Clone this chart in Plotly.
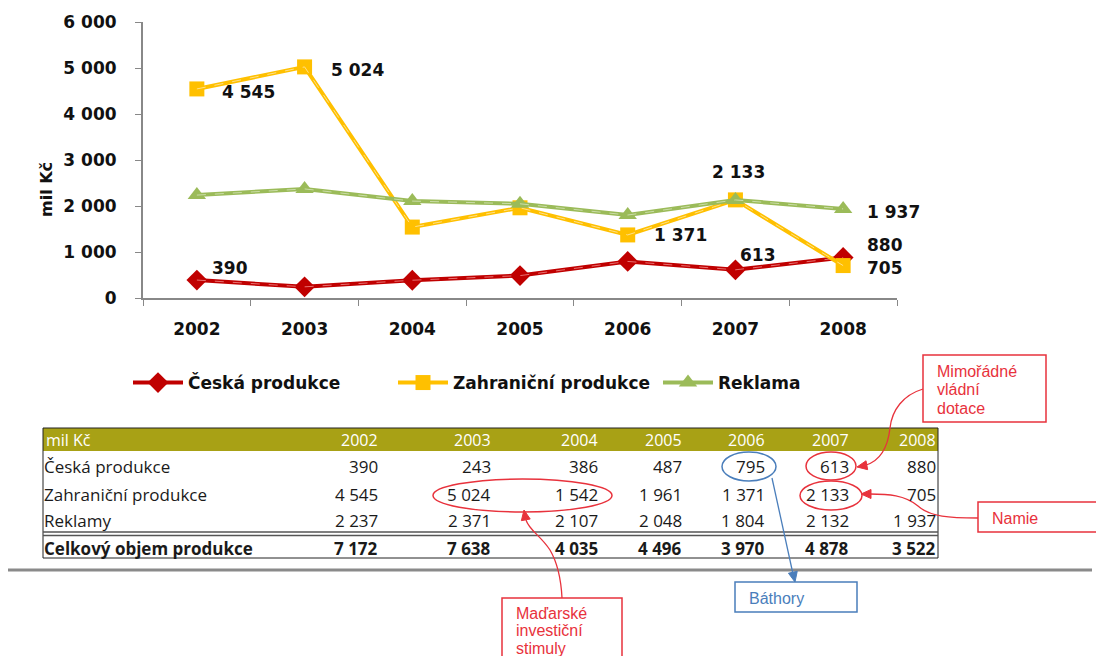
import math
import plotly.graph_objects as go

# page body has an 8px margin, so the figure is drawn 8px in from the window edge
OFF = 8
W, H = 1104 - 2 * OFF, 664 - 2 * OFF

years = ['2002', '2003', '2004', '2005', '2006', '2007', '2008']
ceska = [390, 243, 386, 487, 795, 613, 880]
zahranicni = [4545, 5024, 1542, 1961, 1371, 2133, 705]
reklama = [2237, 2371, 2107, 2048, 1804, 2132, 1937]
celkem = [7172, 7638, 4035, 4496, 3970, 4878, 3522]

row_labels = ['Česká produkce', 'Zahraniční produkce', 'Reklamy', 'Celkový objem produkce']


def fmt(v):
    return f'{v:,}'.replace(',', ' ')


def X(px):
    return (px - OFF) / W


def Y(py):
    return 1 - (py - OFF) / H


chart_font = dict(family='DejaVu Sans', size=17, color='#111', weight='bold')

series = [
    ('Česká produkce', ceska, '#C00000', '#E87070', 'diamond', 16),
    ('Zahraniční produkce', zahranicni, '#FFC000', '#FFE08A', 'square', 15),
    ('Reklama', reklama, '#9BBB59', '#CBDDA8', 'triangle-up', 16),
]

fig = go.Figure()
for name, vals, col, light, sym, size in series:
    fig.add_trace(go.Scatter(x=years, y=vals, name=name, mode='lines+markers',
                             line=dict(color=col, width=4),
                             marker=dict(symbol=sym, size=size, color=col)))
    # lighter dashed highlight inside the line (Excel style)
    fig.add_trace(go.Scatter(x=years, y=vals, mode='lines', showlegend=False, hoverinfo='skip',
                             line=dict(color=light, width=1, dash='dash')))

annotations = []

# data labels: (series, index, anchor, xshift, yshift)
label_spec = [
    (ceska, 0, 'left', 13, 12), (ceska, 5, 'left', 3, 15), (ceska, 6, 'left', 22, 13),
    (zahranicni, 0, 'left', 23, -3), (zahranicni, 1, 'left', 24, -3), (zahranicni, 4, 'left', 24, 0),
    (zahranicni, 5, 'center', 3, 28), (zahranicni, 6, 'left', 22, -2),
    (reklama, 6, 'left', 22, -3),
]
for s, i, xa, dx, dy in label_spec:
    annotations.append(dict(x=i, y=s[i], xref='x', yref='y', text=fmt(s[i]), showarrow=False,
                            xanchor=xa, yanchor='middle', xshift=dx, yshift=dy, font=chart_font))

# table below the chart
col_right = [380, 493, 600, 684, 767, 851, 938]
row_y = [466, 494, 520, 548]
tfont = dict(family='Open Sans', size=17, color='#1a1a1a')
hfont = dict(family='Open Sans', size=16, color='white')
annotations.append(dict(x=X(44), y=Y(440), xref='paper', yref='paper', text='mil Kč', showarrow=False,
                        xanchor='left', yanchor='middle', font=hfont))
for j, yr in enumerate(years):
    annotations.append(dict(x=X(col_right[j]), y=Y(440), xref='paper', yref='paper', text=yr, showarrow=False,
                            xanchor='right', yanchor='middle', font=hfont))
rows = [ceska, zahranicni, reklama, celkem]
for r, (lab, vals) in enumerate(zip(row_labels, rows)):
    f = dict(tfont, weight='bold') if r == 3 else tfont
    annotations.append(dict(x=X(42), y=Y(row_y[r]), xref='paper', yref='paper', text=lab, showarrow=False,
                            xanchor='left', yanchor='middle', font=f))
    for j, v in enumerate(vals):
        annotations.append(dict(x=X(col_right[j]), y=Y(row_y[r]), xref='paper', yref='paper', text=fmt(v),
                                showarrow=False, xanchor='right', yanchor='middle', font=f))

shapes = []


def hline(x0, x1, y, c, w):
    shapes.append(dict(type='line', xref='paper', yref='paper', x0=X(x0), x1=X(x1), y0=Y(y), y1=Y(y),
                       line=dict(color=c, width=w)))


def vline(x, y0, y1, c, w):
    shapes.append(dict(type='line', xref='paper', yref='paper', x0=X(x), x1=X(x), y0=Y(y0), y1=Y(y1),
                       line=dict(color=c, width=w)))


shapes.append(dict(type='rect', xref='paper', yref='paper', x0=X(43), x1=X(938), y0=Y(451), y1=Y(428),
                   fillcolor='#A8A115', line=dict(width=0), layer='below'))
hline(43, 938, 428, '#222', 1)
vline(43, 428, 558, '#222', 1)
vline(938, 428, 558, '#222', 1)
hline(43, 938, 532, '#555', 1.5)
hline(43, 938, 535.5, '#555', 1.5)
hline(43, 938, 558, '#222', 1)
hline(OFF, 1092, 570, '#8a8a8a', 3)

red = '#E8323C'
blue = '#4A7EBB'


def ellipse(x0, x1, y0, y1, c):
    shapes.append(dict(type='circle', xref='paper', yref='paper', x0=X(x0), x1=X(x1), y0=Y(y1), y1=Y(y0),
                       line=dict(color=c, width=1.5)))


def box(x0, x1, y0, y1, c):
    shapes.append(dict(type='rect', xref='paper', yref='paper', x0=X(x0), x1=X(x1), y0=Y(y1), y1=Y(y0),
                       line=dict(color=c, width=1.5), fillcolor='white'))


def connector(pts, c):
    # start point followed by groups of three cubic bezier control points
    d = f'M {X(pts[0][0])},{Y(pts[0][1])}'
    for k in range(1, len(pts), 3):
        d += ' C ' + ' '.join(f'{X(u)},{Y(v)}' for u, v in pts[k:k + 3])
    shapes.append(dict(type='path', xref='paper', yref='paper', path=d, line=dict(color=c, width=1.3)))


def head(tip, back, c, length=10, half=4.5):
    dx, dy = tip[0] - back[0], tip[1] - back[1]
    n = math.hypot(dx, dy)
    ux, uy = dx / n, dy / n
    bx, by = tip[0] - ux * length, tip[1] - uy * length
    p1 = (bx - uy * half, by + ux * half)
    p2 = (bx + uy * half, by - ux * half)
    d = f'M {X(tip[0])},{Y(tip[1])} L {X(p1[0])},{Y(p1[1])} L {X(p2[0])},{Y(p2[1])} Z'
    shapes.append(dict(type='path', xref='paper', yref='paper', path=d, fillcolor=c, line=dict(color=c, width=1)))


ellipse(433, 612, 479, 512, red)
ellipse(722, 776, 452, 481, blue)
ellipse(806, 856, 452, 480, red)
ellipse(800, 862, 481, 510, red)
box(923, 1046, 355, 422, red)
box(978, 1100, 502, 532, red)
box(502, 622, 598, 668, red)
box(735, 857, 582, 612, blue)

connector([(923, 389), (903, 395), (892, 410), (890, 428), (888, 446), (882, 460), (866, 465)], red)
head((857, 467), (868, 465), red)
connector([(978, 518), (950, 518), (930, 517), (918, 506), (905, 495), (888, 494), (870, 494)], red)
head((861, 494), (872, 494), red)
connector([(562, 598), (561, 578), (557, 562), (550, 550), (541, 536), (529, 530), (526, 520)], red)
head((524, 510), (526, 521), red)
shapes.append(dict(type='line', xref='paper', yref='paper', x0=X(772), y0=Y(478), x1=X(793), y1=Y(574),
                   line=dict(color=blue, width=1.3)))
head((795, 582), (772, 478), blue)


def note(x, y, lines, c, step=18.5, size=16):
    # one annotation per line so the line spacing matches the callout boxes
    for k, line in enumerate(lines):
        annotations.append(dict(x=X(x), y=Y(y + k * step), xref='paper', yref='paper', text=line,
                                showarrow=False, xanchor='left', yanchor='middle',
                                font=dict(family='Liberation Sans', size=size, color=c)))


note(935, 371, ['Mimořádné', 'vládní', 'dotace'], red)
note(990, 519, ['Namie'], red)
note(514, 613, ['Maďarské', 'investiční', 'stimuly'], red, step=17.5)
note(747, 598, ['Báthory'], blue)

# y axis title
annotations.append(dict(x=X(35), y=Y(160), xref='paper', yref='paper', text='mil Kč', textangle=-90,
                        showarrow=False, font=dict(family='DejaVu Sans', size=16, color='#111', weight='bold')))

axis_font = dict(family='DejaVu Sans', size=17, color='#111', weight='bold')
fig.update_layout(
    width=W, height=H,
    margin=dict(l=0, r=0, t=0, b=0, autoexpand=False),
    paper_bgcolor='white', plot_bgcolor='white',
    separators=', ',
    showlegend=True,
    legend=dict(orientation='h', x=X(128), xanchor='left', y=Y(383), yanchor='middle',
                font=axis_font, itemwidth=50, entrywidth=200, bgcolor='rgba(0,0,0,0)'),
    xaxis=dict(domain=[X(143), X(897)], type='category', range=[-0.5, 6.5],
               tickson='boundaries', ticks='outside', ticklen=6, tickcolor='#888',
               showline=True, linecolor='#888', linewidth=2, showgrid=False, zeroline=False,
               tickfont=axis_font, ticklabelstandoff=15),
    yaxis=dict(domain=[Y(298), Y(22)], range=[0, 6000], dtick=1000, tickformat=',',
               ticks='outside', ticklen=6, tickcolor='#888',
               showline=True, linecolor='#888', linewidth=2, showgrid=False, zeroline=False,
               tickfont=axis_font, ticklabelstandoff=15),
    shapes=shapes,
    annotations=annotations,
)

fig.write_html('out.html')
